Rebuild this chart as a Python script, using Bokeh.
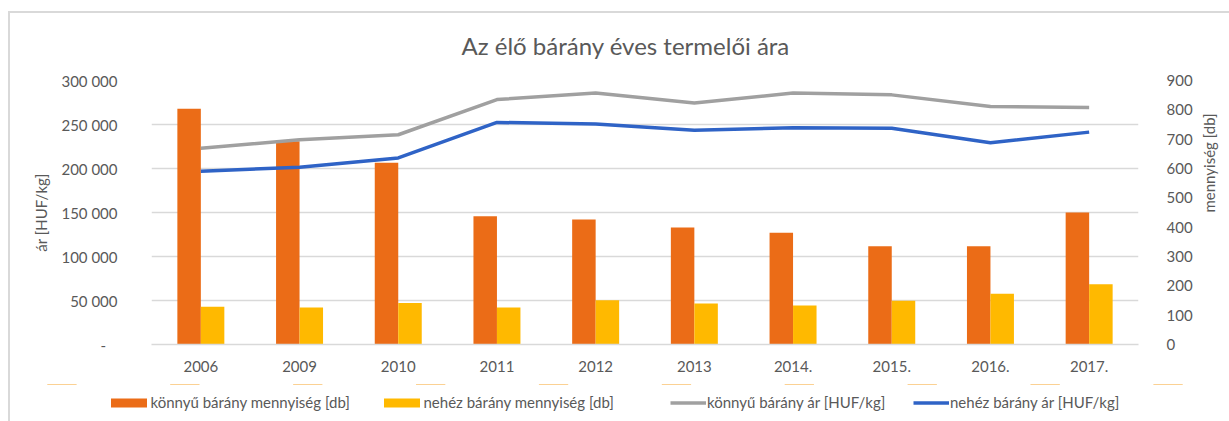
import math
from bokeh.plotting import figure
from bokeh.layouts import column
from bokeh.models import (FactorRange, Range1d, LinearAxis, FixedTicker, CustomJSTickFormatter,
                          Legend, LegendItem, ColumnDataSource)
from bokeh.transform import dodge
from bokeh.embed import file_html
from bokeh.resources import INLINE

years = ["2006", "2009", "2010", "2011", "2012", "2013", "2014.", "2015.", "2016.", "2017."]
konnyu_db = [268000, 231000, 206500, 145800, 142000, 133000, 127000, 111700, 111700, 150000]
nehez_db = [43000, 42000, 47300, 42000, 50400, 46600, 44300, 49600, 57600, 68600]
konnyu_ar = [669, 698, 715, 835, 857, 823, 857, 851, 811, 808]
nehez_ar = [591, 604, 636, 757, 752, 730, 739, 737, 688, 724]

title_text = "Az élő bárány  éves termelői  ára"
left_title = "ár [HUF/kg]"
right_title = "mennyiség [db]"
names = ["könnyű bárány mennyiség [db]", "nehéz bárány mennyiség [db]",
         "könnyű bárány ár [HUF/kg]", "nehéz bárány ár [HUF/kg]"]
colors = ["#EB6C17", "#FFB900", "#A0A0A0", "#2F63C6"]

FONT = "Lato"
TXT = "#595959"
GRID = "#D9D9D9"

src = ColumnDataSource(dict(year=years, kdb=konnyu_db, ndb=nehez_db, kar=konnyu_ar, nar=nehez_ar))

p = figure(x_range=FactorRange(*years), y_range=Range1d(0, 300000),
           width=1229, height=384, output_backend="svg", toolbar_location=None,
           min_border_left=151, min_border_right=90, min_border_top=80, min_border_bottom=40)
p.outline_line_color = None
p.border_fill_alpha = 0
p.styles = {"background": "linear-gradient(#D9D9D9, #D9D9D9) 8px 11px / 2px 100% no-repeat, "
                          "linear-gradient(#D9D9D9, #D9D9D9) 8px 11px / 100% 2px no-repeat, #FFFFFF"}
p.extra_y_ranges = {"right": Range1d(0, 900)}

p.vbar(x=dodge("year", -0.119, range=p.x_range), top="kdb", width=0.238, source=src,
       color=colors[0], line_color=None)
p.vbar(x=dodge("year", 0.119, range=p.x_range), top="ndb", width=0.238, source=src,
       color=colors[1], line_color=None)
p.line(x="year", y="kar", source=src, y_range_name="right", line_color=colors[2], line_width=3.5)
p.line(x="year", y="nar", source=src, y_range_name="right", line_color=colors[3], line_width=3.5)

# left axis
ya = p.yaxis[0]
ya.ticker = FixedTicker(ticks=list(range(0, 300001, 50000)))
ya.formatter = CustomJSTickFormatter(code="""
if (tick == 0) return "-\u00a0\u00a0\u00a0";
return tick.toString().replace(/\\B(?=(\\d{3})+(?!\\d))/g, " ");
""")
ya.axis_label = left_title
ya.major_label_standoff = 34
ya.axis_label_standoff = 8

ra = LinearAxis(y_range_name="right", ticker=FixedTicker(ticks=list(range(0, 901, 100))),
                axis_label=right_title)
ra.major_label_standoff = 28
ra.axis_label_standoff = 13
if "axis_label_orientation" in ra.properties():
    ra.axis_label_orientation = math.pi / 2
p.add_layout(ra, "right")

xa = p.xaxis[0]
xa.major_label_standoff = 16

for ax in [ya, ra, xa]:
    ax.axis_line_color = None
    ax.major_tick_line_color = None
    ax.minor_tick_line_color = None
    ax.major_tick_out = 0
    ax.minor_tick_out = 0
    ax.major_label_text_font = FONT
    ax.major_label_text_font_size = "15px"
    ax.major_label_text_color = TXT
    ax.axis_label_text_font = FONT
    ax.axis_label_text_font_size = "15px"
    ax.axis_label_text_color = TXT
    ax.axis_label_text_font_style = "normal"
xa.axis_line_color = GRID
xa.axis_line_width = 1.5

p.xgrid.grid_line_color = None
p.ygrid.grid_line_color = GRID
p.ygrid.grid_line_width = 1.5
p.ygrid.ticker = FixedTicker(ticks=list(range(50000, 300001, 50000)))

p.title.text = title_text
p.title.align = "left"
p.title.offset = 310
p.title.standoff = 41
p.title.text_font = FONT
p.title.text_font_size = "24px"
p.title.text_font_style = "normal"
p.title.text_color = TXT

# legend strip below the chart: same series, with a y-range that keeps them well out of view,
# so that only their legend samples are shown
q = figure(width=1229, height=37, x_range=p.x_range, y_range=Range1d(-3000000, -2000000),
           output_backend="svg", toolbar_location=None, x_axis_location=None, y_axis_location=None,
           min_border_left=0, min_border_right=0, min_border_top=0, min_border_bottom=0)
if "frame_align" in q.properties():
    q.frame_align = False
    p.frame_align = False
q.outline_line_color = None
q.border_fill_alpha = 0
q.background_fill_alpha = 0
q.grid.visible = False
q.styles = {"background": "linear-gradient(#D9D9D9, #D9D9D9) 8px 0px / 2px 100% no-repeat, #FFFFFF"}

r1 = q.vbar(x="year", top="kdb", width=0.238, source=src, color=colors[0], line_color=None)
r2 = q.vbar(x="year", top="ndb", width=0.238, source=src, color=colors[1], line_color=None)
r3 = q.line(x="year", y="kar", source=src, line_color=colors[2], line_width=3.5)
r4 = q.line(x="year", y="nar", source=src, line_color=colors[3], line_width=3.5)

specs = [(names[0], r1, 105.5, 45, 0), (names[1], r2, 378.5, 45, 0),
         (names[2], r3, 670, 36, 1), (names[3], r4, 913, 36, 1)]
for name, r, xloc, gw, st in specs:
    lg = Legend(items=[LegendItem(label=name, renderers=[r])], location=(xloc, 10),
                margin=0, padding=0, border_line_color=None, background_fill_alpha=0,
                glyph_width=gw, glyph_height=11, label_height=16, label_standoff=st,
                label_text_font=FONT, label_text_font_size="15px", label_text_color=TXT)
    q.add_layout(lg, "center")

layout = column(p, q, spacing=0)
open("out.html", "w").write(file_html(layout, INLINE))
